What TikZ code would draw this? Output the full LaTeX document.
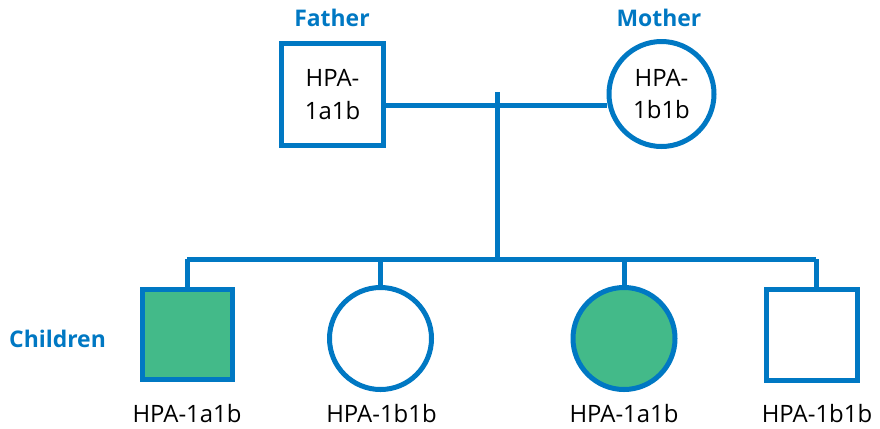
\documentclass[tikz,border=0pt]{standalone}
\usepackage{fontspec}
\setmainfont{Open Sans}
\definecolor{pblue}{RGB}{0,120,195}
\definecolor{pgreen}{RGB}{67,186,137}
\begin{document}
\begin{tikzpicture}[x=1bp,y=-1bp,
  line/.style={draw=pblue,line width=5bp},
  male/.style={rectangle,draw=pblue,line width=5bp,inner sep=0pt,align=center,font=\fontsize{24}{33}\selectfont},
  female/.style={circle,draw=pblue,line width=5bp,inner sep=0pt,align=center,font=\fontsize{24}{33}\selectfont},
  role/.style={text=pblue,font=\fontsize{23}{26}\selectfont\bfseries,anchor=base},
  geno/.style={font=\fontsize{24}{28}\selectfont,anchor=base}]
\useasboundingbox (0,0) rectangle (880,428);
% parents
\node[male,minimum size=102bp] (fa) at (332.5,94.5) {HPA-\\1a1b};
\node[female,minimum size=105bp] (mo) at (661.5,94) {HPA-\\1b1b};
\node[role] (faL) at (332,26) {Father};
\node[role] (moL) at (659,26) {Mother};
% children
\node[male,fill=pgreen,minimum size=90bp] (c1) at (187,334.5) {};
\node[female,minimum size=102bp] (c2) at (380.5,338.5) {};
\node[female,fill=pgreen,minimum size=102bp] (c3) at (624,338.5) {};
\node[male,minimum size=91bp] (c4) at (812,335) {};
\node[role] (chL) at (57.5,347) {Children};
\node[geno] (g1) at (187,422.5) {HPA-1a1b};
\node[geno] (g2) at (381.5,422.5) {HPA-1b1b};
\node[geno] (g3) at (624,422.5) {HPA-1a1b};
\node[geno] (g4) at (817,422.5) {HPA-1b1b};
% couple line and descent
\coordinate (top) at (497,92);
\coordinate (mid) at (497,259);
\coordinate (s1) at (187,259);
\coordinate (s4) at (816,259);
\draw[line] (fa.east |- 0,105.5) -- (mo.west |- 0,105.5);
\draw[line] (top) -- (mid);
\draw[line] (s1) -- (s4);
\draw[line] (s1) -- (c1.north);
\draw[line] (mid -| c2.north) -- (c2.north);
\draw[line] (mid -| c3.north) -- (c3.north);
\draw[line] (s4) -- (s4 |- c4.north);
\end{tikzpicture}
\end{document}
